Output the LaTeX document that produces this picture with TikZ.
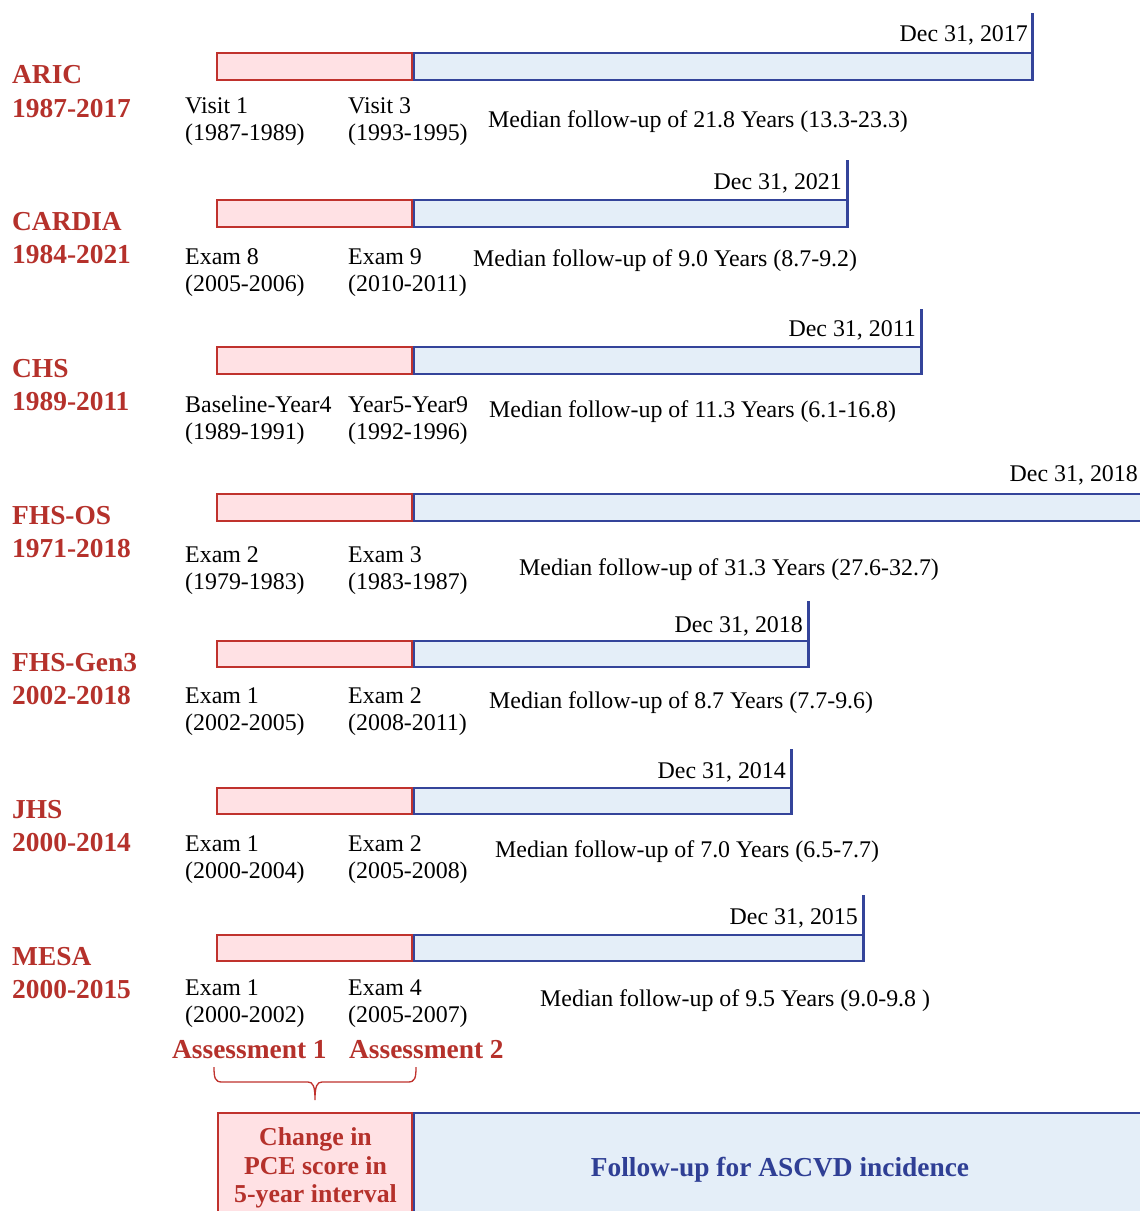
\documentclass[tikz,border=0pt]{standalone}
\usepackage{fontspec}
\setmainfont{Liberation Serif}
\definecolor{redtxt}{HTML}{B5312B}
\definecolor{redline}{HTML}{C0322D}
\definecolor{pinkfill}{HTML}{FFE1E4}
\definecolor{bluefill}{HTML}{E4EEF8}
\definecolor{blueline}{HTML}{34449A}
\definecolor{bluetxt}{HTML}{2F3F95}
\tikzset{
  lab/.style={font=\fontsize{23.9}{27}\selectfont, inner sep=0pt, anchor=base west},
  datelab/.style={font=\fontsize{23.9}{27}\selectfont, inner sep=0pt, anchor=base east},
  rowlab/.style={font=\bfseries\fontsize{27.4}{30}\selectfont, text=redtxt, inner sep=0pt, anchor=base west},
  boxtxt/.style={font=\bfseries\fontsize{27.4}{30}\selectfont, inner sep=0pt, anchor=base},
  pboxtxt/.style={font=\bfseries\fontsize{25.8}{29}\selectfont, inner sep=0pt, anchor=base, text=redtxt},
  pinkbar/.style={draw=redline, fill=pinkfill, line width=2pt},
  bluebar/.style={draw=blueline, fill=bluefill, line width=2pt},
  endtick/.style={draw=blueline, line width=3pt},
  bracecol/.style={draw=redline, line width=1.3pt},
}
\begin{document}
\begin{tikzpicture}[x=1pt,y=-1pt]
\useasboundingbox (0,0) rectangle (1140,1211);
\clip (0,0) rectangle (1140,1211);
\fill[white] (0,0) rectangle (1140,1211);

% ARIC
\draw[pinkbar] (217,53) rectangle (412,80);
\draw[bluebar] (414,53) rectangle (1032,80);
\draw[endtick] (1032,13) -- (1032,81);
\node[datelab] (d1) at (1028,41) {Dec 31, 2017};
\node[rowlab] (n1) at (12,83) {ARIC};
\node[rowlab] (y1) at (12,117) {1987-2017};
\node[lab] (a1) at (185,113) {Visit 1};
\node[lab] (a1b) at (185,140) {(1987-1989)};
\node[lab] (b1) at (348,113) {Visit 3};
\node[lab] (b1b) at (348,140) {(1993-1995)};
\node[lab] (m1) at (488,127) {Median follow-up of 21.8 Years (13.3-23.3)};

% CARDIA
\draw[pinkbar] (217,200) rectangle (412,227);
\draw[bluebar] (414,200) rectangle (847,227);
\draw[endtick] (847,160) -- (847,228);
\node[datelab] (d2) at (842,189) {Dec 31, 2021};
\node[rowlab] (n2) at (12,230) {CARDIA};
\node[rowlab] (y2) at (12,263) {1984-2021};
\node[lab] (a2) at (185,264) {Exam 8};
\node[lab] (a2b) at (185,291) {(2005-2006)};
\node[lab] (b2) at (348,264) {Exam 9};
\node[lab] (b2b) at (348,291) {(2010-2011)};
\node[lab] (m2) at (473,266) {Median follow-up of 9.0 Years (8.7-9.2)};

% CHS
\draw[pinkbar] (217,347) rectangle (412,374);
\draw[bluebar] (414,347) rectangle (921,374);
\draw[endtick] (921,309) -- (921,375);
\node[datelab] (d3) at (916,336) {Dec 31, 2011};
\node[rowlab] (n3) at (12,377) {CHS};
\node[rowlab] (y3) at (12,410) {1989-2011};
\node[lab] (a3) at (185,412) {Baseline-Year4};
\node[lab] (a3b) at (185,439) {(1989-1991)};
\node[lab] (b3) at (348,412) {Year5-Year9};
\node[lab] (b3b) at (348,439) {(1992-1996)};
\node[lab] (m3) at (489,417) {Median follow-up of 11.3 Years (6.1-16.8)};

% FHS-OS
\draw[pinkbar] (217,494) rectangle (412,521);
\draw[bluebar] (414,494) rectangle (1160,521);
\node[datelab] (d4) at (1138,481) {Dec 31, 2018};
\node[rowlab] (n4) at (12,524) {FHS-OS};
\node[rowlab] (y4) at (12,557) {1971-2018};
\node[lab] (a4) at (185,562) {Exam 2};
\node[lab] (a4b) at (185,589) {(1979-1983)};
\node[lab] (b4) at (348,562) {Exam 3};
\node[lab] (b4b) at (348,589) {(1983-1987)};
\node[lab] (m4) at (519,575) {Median follow-up of 31.3 Years (27.6-32.7)};

% FHS-Gen3
\draw[pinkbar] (217,641) rectangle (412,667);
\draw[bluebar] (414,641) rectangle (808,667);
\draw[endtick] (808,601) -- (808,668);
\node[datelab] (d5) at (803,632) {Dec 31, 2018};
\node[rowlab] (n5) at (12,671) {FHS-Gen3};
\node[rowlab] (y5) at (12,704) {2002-2018};
\node[lab] (a5) at (185,703) {Exam 1};
\node[lab] (a5b) at (185,730) {(2002-2005)};
\node[lab] (b5) at (348,703) {Exam 2};
\node[lab] (b5b) at (348,730) {(2008-2011)};
\node[lab] (m5) at (489,708) {Median follow-up of 8.7 Years (7.7-9.6)};

% JHS
\draw[pinkbar] (217,788) rectangle (412,814);
\draw[bluebar] (414,788) rectangle (791,814);
\draw[endtick] (791,749) -- (791,815);
\node[datelab] (d6) at (786,778) {Dec 31, 2014};
\node[rowlab] (n6) at (12,818) {JHS};
\node[rowlab] (y6) at (12,851) {2000-2014};
\node[lab] (a6) at (185,851) {Exam 1};
\node[lab] (a6b) at (185,878) {(2000-2004)};
\node[lab] (b6) at (348,851) {Exam 2};
\node[lab] (b6b) at (348,878) {(2005-2008)};
\node[lab] (m6) at (495,857) {Median follow-up of 7.0 Years (6.5-7.7)};

% MESA
\draw[pinkbar] (217,935) rectangle (412,961);
\draw[bluebar] (414,935) rectangle (863,961);
\draw[endtick] (863,895) -- (863,962);
\node[datelab] (d7) at (858,924) {Dec 31, 2015};
\node[rowlab] (n7) at (12,965) {MESA};
\node[rowlab] (y7) at (12,998) {2000-2015};
\node[lab] (a7) at (185,995) {Exam 1};
\node[lab] (a7b) at (185,1022) {(2000-2002)};
\node[lab] (b7) at (348,995) {Exam 4};
\node[lab] (b7b) at (348,1022) {(2005-2007)};
\node[lab] (m7) at (540,1006) {Median follow-up of 9.5 Years (9.0-9.8 )};

% Assessments
\node[rowlab] (as1) at (172,1058) {Assessment 1};
\node[rowlab] (as2) at (349,1058) {Assessment 2};
\draw[bracecol] (214,1067) .. controls (214,1078) and (215,1082) .. (222,1082) -- (308,1082)
  .. controls (313,1082) and (315,1086) .. (315,1100)
  .. controls (315,1086) and (317,1082) .. (322,1082) -- (408,1082)
  .. controls (415,1082) and (416,1078) .. (416,1067);

% Bottom legend boxes
\draw[pinkbar] (218,1113) rectangle (412,1240);
\draw[bluebar] (414,1113) rectangle (1160,1240);
\node[pboxtxt] (c1) at (315.5,1145) {Change in};
\node[pboxtxt] (c2) at (315.5,1174) {PCE score in};
\node[pboxtxt] (c3) at (315.5,1202) {5-year interval};
\node[boxtxt, text=bluetxt] (fu) at (780,1176) {Follow-up for ASCVD incidence};
\end{tikzpicture}
\end{document}
